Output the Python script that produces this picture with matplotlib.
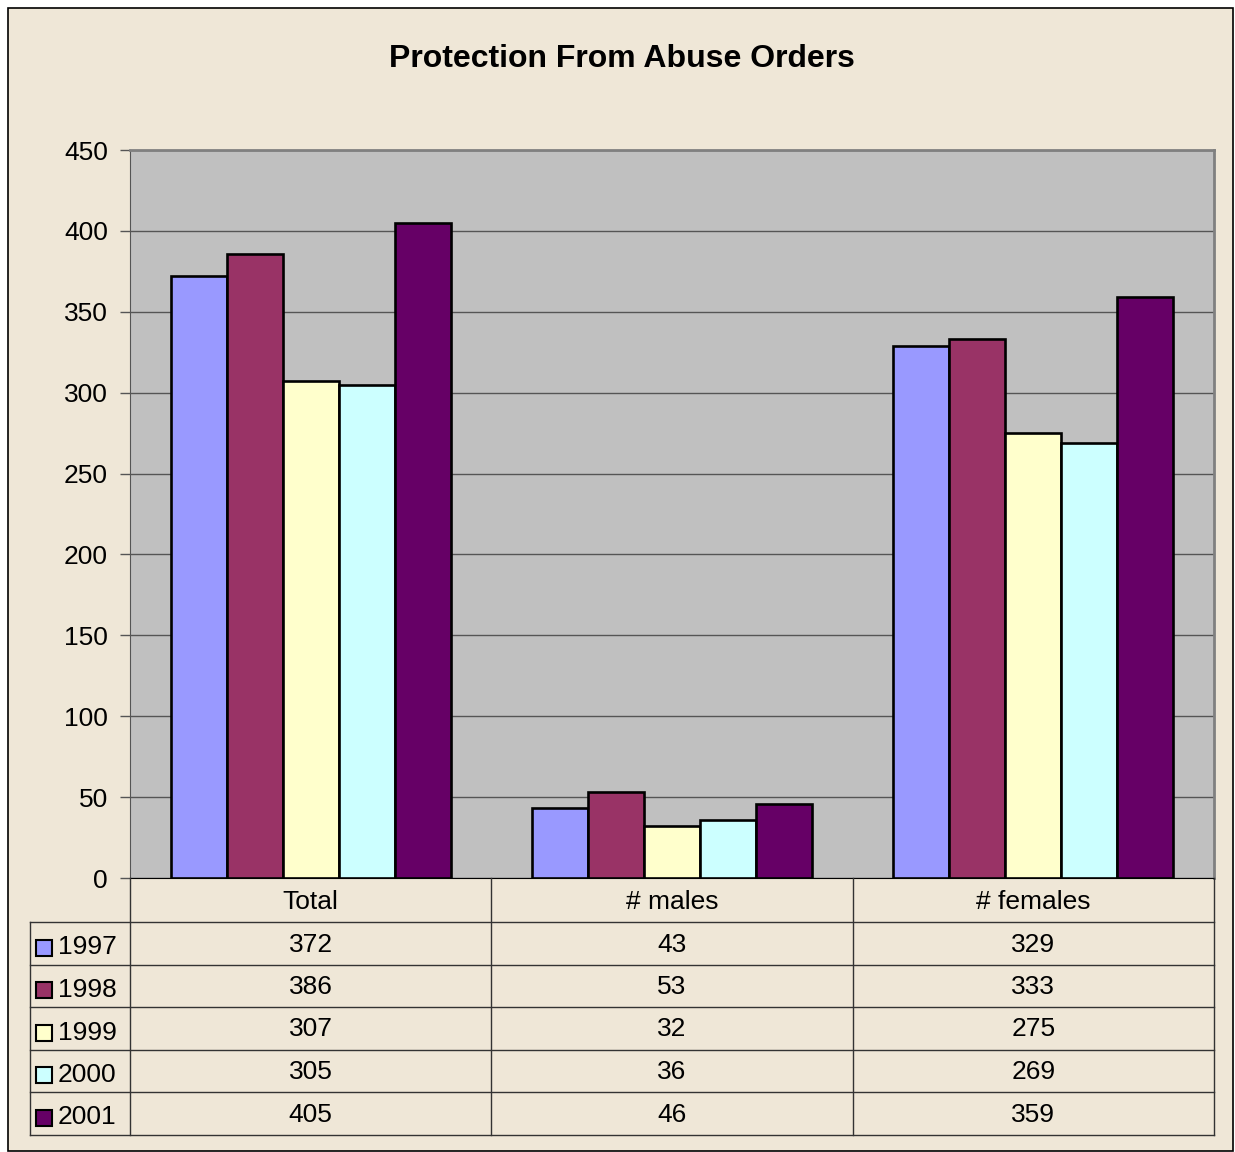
import matplotlib.pyplot as plt
import numpy as np
from matplotlib.patches import Rectangle

plt.rcParams['font.family'] = ['Liberation Sans', 'DejaVu Sans']

# data
categories = ['Total', '# males', '# females']
years = ['1997', '1998', '1999', '2000', '2001']
values = {
    '1997': [372, 43, 329],
    '1998': [386, 53, 333],
    '1999': [307, 32, 275],
    '2000': [305, 36, 269],
    '2001': [405, 46, 359],
}
colors = ['#9999FF', '#993366', '#FFFFCC', '#CCFFFF', '#660066']

W, H = 1235, 1152
bg = '#EFE7D7'

fig = plt.figure(figsize=(W / 100, H / 100), dpi=100)
fig.patch.set_facecolor('white')

def fx(px):
    return px / W

def fy(py):
    return 1 - py / H

# outer chart border
fig.patches.append(Rectangle((fx(8), fy(1151)), fx(1225), (1143) / H,
                             transform=fig.transFigure, facecolor=bg,
                             edgecolor='black', linewidth=1.2, zorder=-5))

# plot area
left, right, top, bottom = 130, 1214, 150, 878
ax = fig.add_axes([fx(left), fy(bottom), fx(right - left), (bottom - top) / H])
ax.set_facecolor('#C0C0C0')

n = len(years)
bar_w = 0.155
x = np.arange(len(categories))
for i, yr in enumerate(years):
    ax.bar(x + (i - (n - 1) / 2) * bar_w, values[yr], bar_w, color=colors[i],
           edgecolor='black', linewidth=1.9, zorder=3)

ax.set_xlim(-0.5, len(categories) - 0.5)
ax.set_ylim(0, 450)
ax.set_yticks(range(0, 451, 50))
ax.tick_params(axis='y', labelsize=19, length=7, width=1, color='#555555', pad=9)
ax.set_xticks([])
ax.yaxis.grid(True, color='#555555', linewidth=1)
ax.set_axisbelow(True)
ax.spines['top'].set_color('#808080')
ax.spines['right'].set_color('#808080')
ax.spines['top'].set_linewidth(2)
ax.spines['right'].set_linewidth(2)
ax.spines['left'].set_color('#555555')
ax.spines['bottom'].set_color('black')

fig.text(fx(622), fy(59), 'Protection From Abuse Orders', ha='center', va='center',
         fontsize=23, fontweight='bold')

# data table drawn in pixel coords
tax = fig.add_axes([0, 0, 1, 1])
tax.set_xlim(0, W)
tax.set_ylim(H, 0)
tax.axis('off')

col_edges = [left + (right - left) * k / len(categories) for k in range(len(categories) + 1)]
row_edges = [878, 922, 965, 1007, 1050, 1092, 1135]
lc = '#333333'

# vertical lines
for k, cx in enumerate(col_edges):
    tax.plot([cx, cx], [878, 1135], color=lc, linewidth=1)
tax.plot([30, 30], [922, 1135], color=lc, linewidth=1)
# horizontal lines
for ry in row_edges[1:]:
    tax.plot([30, right], [ry, ry], color=lc, linewidth=1)

for j, cat in enumerate(categories):
    cx = (col_edges[j] + col_edges[j + 1]) / 2
    tax.text(cx, (row_edges[0] + row_edges[1]) / 2 + 2, cat, ha='center', va='center', fontsize=19)
    for i, yr in enumerate(years):
        ry = (row_edges[i + 1] + row_edges[i + 2]) / 2 + 1
        tax.text(cx, ry, str(values[yr][j]), ha='center', va='center', fontsize=19)

for i, yr in enumerate(years):
    ry = (row_edges[i + 1] + row_edges[i + 2]) / 2 + 4
    tax.add_patch(Rectangle((36, ry - 8), 16, 16, facecolor=colors[i],
                            edgecolor='black', linewidth=1.5))
    tax.text(58, ry, yr, ha='left', va='center', fontsize=19)

fig.savefig('out.png', dpi=100, facecolor=fig.get_facecolor())
